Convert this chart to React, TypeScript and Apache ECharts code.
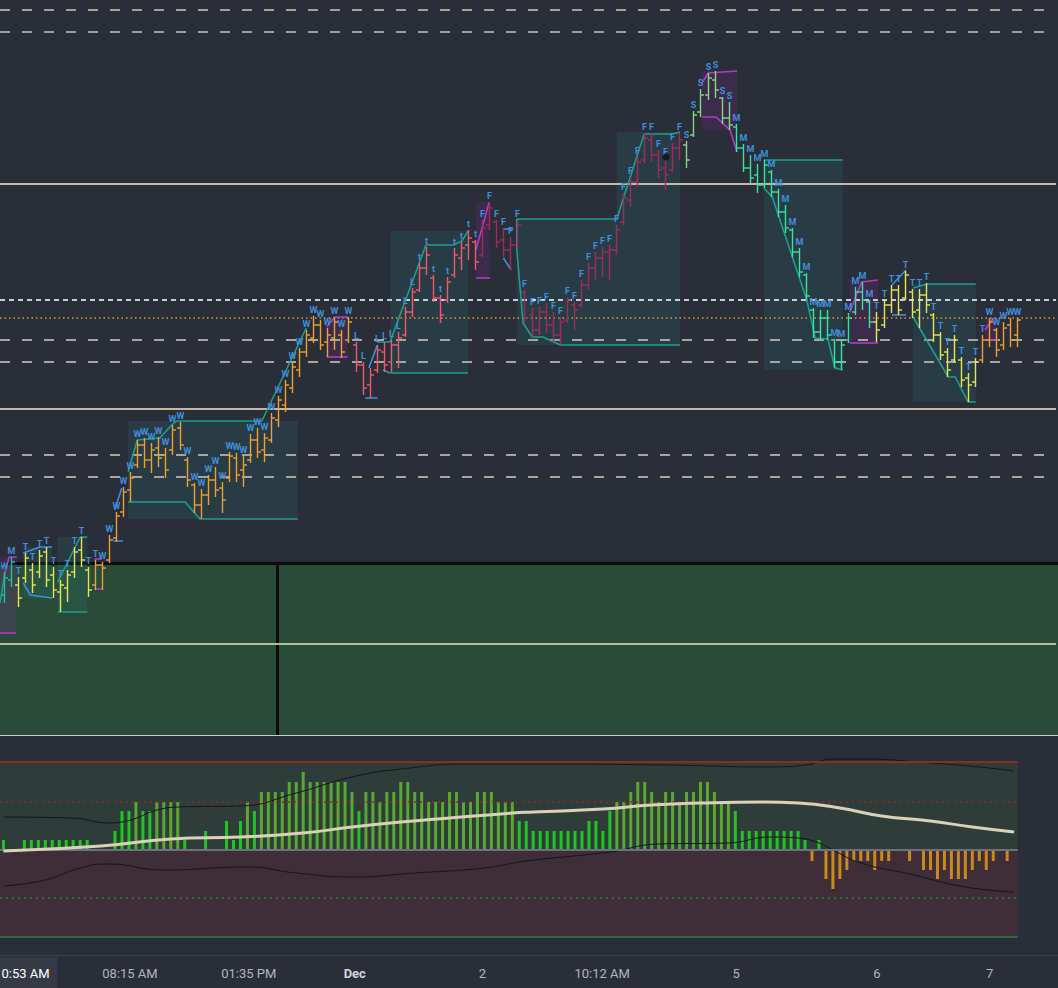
import { useEffect, useRef } from "react";
import * as echarts from "echarts";

// ---------- price bars (index 0..144) ----------
const openP = [
  405, 420, 415, 422, 430, 428, 448, 425, 408, 412,
  428, 450, 430, 415, 435, 440, 462, 488, 510, 535,
  555, 540, 552, 545, 550, 572, 540, 515, 495, 505,
  520, 512, 522, 542, 530, 540, 560, 550, 560, 580,
  595, 612, 630, 648, 662, 675, 658, 662, 665, 660,
  655, 635, 615, 630, 648, 638, 655, 665, 688, 710,
  732, 722, 702, 700, 725, 742, 755, 758, 745, 775,
  778, 760, 750, 755, 708, 685, 670, 688, 675, 665,
  680, 695, 695, 715, 732, 742, 748, 750, 778, 800,
  818, 840, 860, 845, 832, 830, 852, 855, 865, 888,
  905, 920, 902, 882, 873, 852, 832, 825, 815, 828,
  808, 788, 770, 748, 725, 690, 668, 682, 660, 638,
  660, 688, 708, 698, 678, 675, 695, 710, 702, 708,
  690, 705, 685, 665, 648, 640, 640, 622, 618, 640,
  660, 670, 655, 675, 665,
];
const highP = [
  428, 443, 423, 447, 437, 450, 453, 433, 420, 430,
  453, 463, 433, 440, 438, 465, 488, 513, 528, 560,
  562, 557, 563, 552, 575, 578, 543, 517, 511, 525,
  533, 518, 548, 547, 544, 566, 572, 567, 587, 604,
  620, 638, 652, 670, 684, 680, 672, 683, 670, 683,
  658, 638, 632, 655, 658, 660, 668, 693, 712, 737,
  753, 725, 705, 723, 752, 758, 770, 760, 780, 798,
  780, 772, 763, 780, 710, 692, 693, 697, 688, 683,
  703, 698, 720, 737, 748, 753, 755, 775, 807, 823,
  843, 867, 867, 850, 842, 857, 867, 859, 889, 911,
  927, 929, 903, 898, 876, 856, 845, 836, 840, 830,
  811, 795, 772, 752, 727, 692, 690, 690, 661, 660,
  687, 713, 718, 700, 688, 700, 715, 715, 729, 711,
  711, 717, 687, 668, 652, 665, 643, 627, 642, 665,
  682, 672, 678, 682, 682,
];
const lowP = [
  397, 413, 393, 417, 407, 422, 413, 402, 388, 398,
  422, 433, 403, 410, 410, 437, 458, 483, 498, 532,
  532, 527, 533, 522, 545, 550, 513, 487, 481, 495,
  503, 487, 518, 518, 513, 537, 542, 538, 557, 573,
  588, 607, 623, 643, 657, 650, 643, 650, 642, 657,
  628, 605, 602, 627, 628, 628, 632, 663, 683, 708,
  725, 698, 677, 697, 722, 730, 740, 730, 743, 770,
  752, 743, 730, 752, 677, 663, 665, 667, 658, 655,
  677, 670, 692, 710, 720, 723, 720, 745, 775, 793,
  813, 837, 838, 822, 810, 828, 840, 832, 863, 883,
  900, 902, 876, 870, 848, 828, 817, 807, 812, 803,
  783, 767, 743, 723, 700, 662, 660, 660, 632, 630,
  657, 685, 690, 672, 658, 672, 687, 685, 700, 682,
  672, 687, 658, 640, 623, 637, 613, 598, 613, 637,
  653, 643, 650, 653, 653,
];
const closeP = [
  422, 438, 402, 442, 415, 444, 420, 410, 415, 425,
  448, 440, 410, 435, 432, 460, 484, 508, 522, 555,
  540, 550, 542, 530, 570, 555, 520, 495, 505, 520,
  510, 500, 544, 525, 535, 560, 548, 562, 582, 600,
  615, 633, 648, 665, 675, 655, 665, 678, 648, 678,
  635, 612, 625, 650, 635, 655, 662, 688, 708, 732,
  745, 702, 685, 718, 745, 752, 762, 738, 772, 792,
  758, 750, 755, 775, 682, 670, 688, 675, 665, 678,
  700, 690, 715, 732, 742, 748, 750, 770, 802, 818,
  838, 862, 845, 830, 825, 852, 860, 840, 885, 905,
  922, 910, 882, 875, 852, 832, 822, 815, 835, 808,
  788, 772, 748, 728, 704, 668, 682, 665, 638, 655,
  682, 708, 700, 678, 670, 695, 710, 690, 725, 688,
  705, 695, 665, 645, 630, 660, 620, 615, 638, 660,
  678, 650, 672, 660, 680,
];

// bar colour groups and pattern letters (start index, end index, value)
const colorSegments: [number, number, string][] = [
  [0, 1, "#24be9f"], [2, 12, "#e5e55a"], [13, 49, "#f0a030"], [50, 67, "#ec5b6b"],
  [68, 96, "#a32a5c"], [97, 103, "#84d884"], [104, 123, "#33e6a0"],
  [124, 138, "#e5e55a"], [139, 144, "#f0a030"],
];
const letterSegments: [number, number, string][] = [
  [0, 0, "W"], [1, 1, "M"], [2, 13, "T"], [14, 49, "W"], [50, 51, "L"], [53, 58, "L"],
  [59, 67, "t"], [68, 96, "F"], [97, 103, "S"], [104, 123, "M"], [124, 139, "T"], [140, 144, "W"],
];

// price levels
const dashedLevels = [990, 968, 660, 638, 545, 523];
const solidLevels = [816, 591];
const lastPriceLevel = 700;
const orangeLevel = 682;
const paneLevel = 356;

// channel lines [barIndex, price]
const tealLines: number[][][] = [
  [[17.7, 528], [19.0, 560], [22.2, 562], [23.9, 575], [24.6, 579], [36.7, 579], [43.0, 672]],
  [[17.7, 498], [25.8, 498], [27.9, 481], [41.8, 481]],
  [[53.1, 658], [54.9, 658], [60.0, 755], [63.9, 755], [65.1, 759], [66.0, 769]],
  [[53.9, 630], [54.9, 627], [66.0, 627]],
  [[72.9, 781], [87.1, 781], [91.0, 866], [95.0, 866], [96.1, 868]],
  [[72.9, 781], [72.9, 752], [73.8, 677], [75.1, 663], [76.6, 663], [79.1, 655], [96.1, 655]],
  [[108.0, 840], [119.2, 840]],
  [[108.0, 812], [109.2, 803], [114.1, 700], [115.3, 662], [117.1, 661], [118.1, 632], [119.2, 630]],
  [[129.2, 712], [131.2, 716], [138.1, 716]],
  [[129.2, 683], [134.2, 623], [135.2, 623], [137.0, 598], [138.1, 598]],
  [[7.7, 418], [10.9, 463], [11.9, 463]],
  [[7.7, 388], [11.9, 388]],
  [[-0.5, 397], [0.2, 427]],
];
const blueLines: number[][][] = [
  [[2.8, 447], [5.2, 453], [6.9, 453]],
  [[2.8, 417], [3.8, 405], [6.9, 402]],
  [[15.8, 490], [16.8, 512]],
  [[15.6, 459], [17.0, 459]],
  [[51.9, 632], [53.1, 655]],
  [[51.4, 602], [53.1, 602]],
  [[71.1, 771], [72.4, 771]],
  [[71.0, 742], [72.1, 730]],
  [[126.2, 715], [128.2, 730]],
  [[126.2, 685], [128.2, 685]],
];
const magentaLines: number[][][] = [
  [[0.2, 427], [0.8, 443], [1.9, 443]],
  [[-0.5, 367], [1.8, 367]],
  [[12.9, 441], [14.0, 441]],
  [[12.9, 411], [14.0, 411]],
  [[45.9, 673], [47.1, 683], [48.9, 683]],
  [[45.9, 643], [48.9, 643]],
  [[67.1, 750], [69.0, 798]],
  [[67.1, 722], [69.1, 722]],
  [[99.2, 917], [100.1, 927], [104.2, 929]],
  [[99.2, 883], [101.2, 883], [103.2, 870], [104.2, 848]],
  [[120.2, 688], [121.9, 718], [124.2, 720]],
  [[120.2, 657], [124.2, 657]],
  [[139.4, 670], [140.6, 682]],
  [[139.4, 660], [141.3, 660]],
];
// shaded zones [x1, y1, x2, y2]
const tealZones = [
  [17.7, 579, 41.8, 481], [54.9, 769, 66.0, 627], [72.9, 781, 96.1, 655], [87.1, 868, 96.1, 781],
  [108.0, 840, 119.2, 630], [129.2, 716, 138.1, 598], [7.7, 463, 11.9, 388], [2.8, 453, 6.9, 402],
];
const magentaZones = [
  [99.2, 929, 104.2, 870], [120.2, 720, 124.2, 657], [-0.5, 443, 1.9, 367],
  [45.9, 683, 48.9, 643], [67.1, 798, 69.1, 722], [139.4, 682, 141.3, 660],
];
const pivotDot = [[94.1, 843]];

// ---------- oscillator ----------
const oscHist = [
  10, 0, 0, 10, 10, 10, 10, 10, 10, 10,
  10, 10, 10, 0, 0, 0, 19, 39, 39, 48,
  39, 39, 48, 48, 48, 48, 10, 0, 0, 19,
  0, 0, 29, 10, 29, 48, 39, 58, 58, 58,
  58, 68, 68, 78, 68, 68, 68, 68, 68, 68,
  58, 39, 58, 58, 48, 58, 58, 68, 68, 58,
  58, 48, 48, 48, 58, 58, 48, 48, 58, 58,
  58, 48, 48, 48, 29, 29, 19, 19, 19, 19,
  19, 19, 19, 19, 29, 29, 19, 39, 48, 48,
  58, 68, 68, 58, 48, 58, 58, 48, 58, 58,
  68, 68, 58, 48, 48, 39, 19, 19, 19, 19,
  19, 19, 19, 19, 19, 10, -11, 10, -29, -39,
  -29, -20, -11, -11, -11, -20, -11, -11, 0, 0,
  -11, 0, -20, -20, -29, -20, -29, -29, -29, -20,
  -11, -20, -11, 0, -11,
];
const oscSignal = [
  [0, -1], [14, 4], [24, 11], [34, 13], [43, 17], [50, 23], [57, 28], [64, 32], [73, 37], [76, 38],
  [86, 41], [93, 45], [100, 47], [109, 48], [114, 47], [120, 42], [126, 34], [133, 29], [139, 23], [145, 18],
];
const oscUpperBand = [
  [0, 33], [10, 32], [15, 27], [25, 43], [34, 44], [42, 57], [50, 73], [57, 81], [67, 86], [75, 86],
  [95, 85], [110, 83], [115, 85], [119, 91], [123, 91], [133, 87], [140, 83], [145, 79],
];
const oscLowerBand = [
  [0, -36], [6, -30], [11, -18], [15, -14], [23, -20], [35, -17], [42, -23], [50, -27], [59, -23],
  [69, -18], [75, -11], [87, -2], [94, 6], [104, 7], [110, 13], [114, 12], [117, 7], [119, 0],
  [123, -13], [130, -24], [138, -37], [145, -42],
];
const oscTop = 88, oscOverbought = 48, oscOversold = -48, oscBottom = -87;
const oscSpan = [-0.5, 145.5];

// ---------- time axis ----------
const tickLabels = ["0:53 AM", "08:15 AM", "01:35 PM", "Dec", "2", "10:12 AM", "5", "6", "7"];
const tickPos = [3.6, 18.15, 35.2, 50.4, 68.7, 85.9, 105.1, 125.3, 141.5];

function findSeg(segs: [number, number, string][], i: number) {
  const s = segs.find(([a, b]) => i >= a && i <= b);
  return s ? s[2] : "";
}

function buildOption() {
  const barColors = openP.map((_, i) => findSeg(colorSegments, i) || "#cccccc");
  const barLetters = openP.map((_, i) => findSeg(letterSegments, i));
  const ohlc = openP.map((o, i) => [i, o, highP[i], lowP[i], closeP[i]]);

  const hLine = (v: number, color: string, type: any, width: number) => ({
    yAxis: v,
    lineStyle: { color, type, width },
  });

  const priceMarkLines = [
    ...dashedLevels.map((v, k) =>
      hLine(v, k === 0 ? "#a8a18c" : k === 1 ? "#9c9da3" : "#aaa59b", [10, 12], 2)
    ),
    ...solidLevels.map((v) => hLine(v, "#c4baa2", "solid", 2)),
    hLine(lastPriceLevel, "#ffffff", [5, 4], 1.5),
    hLine(orangeLevel, "#e39b2b", [1.5, 3], 1.5),
    hLine(paneLevel, "#b9bb8e", "solid", 2),
  ];

  const zoneData = [
    ...tealZones.map(([x1, y1, x2, y2]) => [
      { coord: [x1, y1], itemStyle: { color: "rgba(38,166,154,0.12)" } },
      { coord: [x2, y2] },
    ]),
    ...magentaZones.map(([x1, y1, x2, y2]) => [
      { coord: [x1, y1], itemStyle: { color: "rgba(156,39,176,0.16)" } },
      { coord: [x2, y2] },
    ]),
  ];

  const poly = (lines: number[][][], color: string) =>
    lines.map((pts) => ({
      type: "line",
      xAxisIndex: 0,
      yAxisIndex: 0,
      data: pts,
      symbol: "none",
      showSymbol: false,
      silent: true,
      lineStyle: { color, width: 1.6 },
      z: 2,
    }));

  const oscLine = (v: number, color: string, type: any, width: number) => [
    { coord: [oscSpan[0], v], lineStyle: { color, type, width } },
    { coord: [oscSpan[1], v] },
  ];

  return {
    animation: false,
    backgroundColor: "#2a2e39",
    graphic: [
      { type: "rect", z: -10, shape: { x: 0, y: 562, width: 1058, height: 173 }, style: { fill: "#2a4b39" } },
      { type: "rect", z: -9, shape: { x: 0, y: 562, width: 1058, height: 3 }, style: { fill: "#0b0c0e" } },
      { type: "rect", z: -9, shape: { x: 276, y: 562, width: 3, height: 173 }, style: { fill: "#0b0c0e" } },
      { type: "rect", z: -9, shape: { x: 0, y: 735, width: 1058, height: 1 }, style: { fill: "#c9ccd1" } },
      { type: "rect", z: -9, shape: { x: 0, y: 955, width: 1058, height: 1 }, style: { fill: "#3c404b" } },
    ],
    grid: [
      { left: 0, top: 0, width: 1056, height: 735, outerBoundsMode: "none", containLabel: false },
      { left: 0, top: 740, width: 1045.5, height: 215, outerBoundsMode: "none", containLabel: false },
    ],
    xAxis: [
      { type: "value", gridIndex: 0, min: -0.5, max: 149.5, show: false },
      {
        type: "value",
        gridIndex: 1,
        min: -0.5,
        max: 149.5,
        axisLine: { show: false },
        axisTick: { show: false },
        splitLine: { show: false },
        axisLabel: {
          customValues: tickPos,
          margin: 18,
          verticalAlign: "middle",
          color: "#b2b5be",
          fontSize: 13,
          fontFamily: "Roboto",
          hideOverlap: false,
          formatter: (v: number) => {
            let j = 0;
            tickPos.forEach((p, k) => {
              if (Math.abs(p - v) < Math.abs(tickPos[j] - v)) j = k;
            });
            const t = tickLabels[j];
            if (j === 0) return "{hl|" + t + "}";
            if (t === "Dec") return "{b|" + t + "}";
            return t;
          },
          rich: {
            hl: {
              color: "#ffffff",
              backgroundColor: "#363a45",
              padding: [9, 8, 9, 2],
              fontSize: 13,
              fontFamily: "Roboto",
            },
            b: { color: "#d1d4dc", fontWeight: "bold", fontSize: 13, fontFamily: "Roboto" },
          },
        },
      },
    ],
    yAxis: [
      { type: "value", gridIndex: 0, min: 265, max: 1000, show: false },
      { type: "value", gridIndex: 1, min: -105, max: 110, show: false },
    ],
    series: [
      ...poly(tealLines, "#1d9e8e"),
      ...poly(blueLines, "#3b8fe0"),
      ...poly(magentaLines, "#b03cc8"),
      {
        type: "custom",
        name: "price",
        xAxisIndex: 0,
        yAxisIndex: 0,
        z: 3,
        encode: { x: 0, y: [1, 2, 3, 4] },
        data: ohlc,
        renderItem: (params: any, api: any) => {
          const idx = params.dataIndex;
          const i = api.value(0);
          const pO = api.coord([i, api.value(1)]);
          const pH = api.coord([i, api.value(2)]);
          const pL = api.coord([i, api.value(3)]);
          const pC = api.coord([i, api.value(4)]);
          const x = Math.round(pH[0]) + 0.5;
          const st = { stroke: barColors[idx], lineWidth: 1.4 };
          const children: any[] = [
            { type: "line", shape: { x1: x, y1: pH[1], x2: x, y2: pL[1] }, style: st },
            { type: "line", shape: { x1: x - 3.5, y1: pO[1], x2: x, y2: pO[1] }, style: st },
            { type: "line", shape: { x1: x, y1: pC[1], x2: x + 3.5, y2: pC[1] }, style: st },
          ];
          const letter = barLetters[idx];
          if (letter) {
            children.push({
              type: "text",
              x,
              y: pH[1] - 2,
              style: {
                text: letter,
                fill: "#3f8fdc",
                font: "bold 9px Roboto, sans-serif",
                align: "center",
                verticalAlign: "bottom",
              },
            });
          }
          return { type: "group", children };
        },
        markLine: {
          silent: true,
          z: 1,
          symbol: ["none", "none"],
          label: { show: false },
          data: priceMarkLines,
        },
        markArea: { silent: true, z: 1, data: zoneData },
      },
      {
        type: "scatter",
        xAxisIndex: 0,
        yAxisIndex: 0,
        data: pivotDot,
        symbolSize: 7,
        itemStyle: { color: "#111111" },
        z: 4,
        silent: true,
      },
      {
        type: "bar",
        name: "osc",
        xAxisIndex: 1,
        yAxisIndex: 1,
        barWidth: 3,
        data: oscHist.map((v, k) => [k, v]),
        itemStyle: {
          color: (p: any) => {
            const v = p.value[1];
            return v < 0 ? "#c8891f" : v >= 44 ? "#5aa832" : "#22c421";
          },
        },
        markArea: {
          silent: true,
          data: [
            [{ coord: [oscSpan[0], 0], itemStyle: { color: "#2f3d3a" } }, { coord: [oscSpan[1], oscTop] }],
            [{ coord: [oscSpan[0], 0], itemStyle: { color: "#3f2e38" } }, { coord: [oscSpan[1], oscBottom] }],
          ],
        },
        markLine: {
          silent: true,
          symbol: ["none", "none"],
          label: { show: false },
          data: [
            oscLine(oscTop, "#8c2b2b", "solid", 2),
            oscLine(oscOverbought, "#8c2b2b", [2, 4], 1.5),
            oscLine(0, "#6c717c", "solid", 2),
            oscLine(oscOversold, "#2e7d32", [2, 4], 1.5),
            oscLine(oscBottom, "#2e6b35", "solid", 2),
          ],
        },
      },
      {
        type: "line",
        xAxisIndex: 1,
        yAxisIndex: 1,
        data: oscUpperBand,
        smooth: true,
        symbol: "none",
        silent: true,
        lineStyle: { color: "#15171c", width: 1 },
        z: 4,
      },
      {
        type: "line",
        xAxisIndex: 1,
        yAxisIndex: 1,
        data: oscLowerBand,
        smooth: true,
        symbol: "none",
        silent: true,
        lineStyle: { color: "#15171c", width: 1 },
        z: 4,
      },
      {
        type: "line",
        xAxisIndex: 1,
        yAxisIndex: 1,
        data: oscSignal,
        smooth: true,
        symbol: "none",
        silent: true,
        lineStyle: { color: "#d9d1ba", width: 3 },
        z: 5,
      },
    ],
  };
}

export default function App() {
  const ref = useRef<HTMLDivElement>(null);
  useEffect(() => {
    const chart = echarts.init(ref.current!, null, { renderer: "svg" });
    chart.setOption(buildOption() as any);
    return () => chart.dispose();
  }, []);
  return (
    <div
      ref={ref}
      style={{ position: "fixed", left: 0, top: 0, width: 1058, height: 988 }}
    />
  );
}
